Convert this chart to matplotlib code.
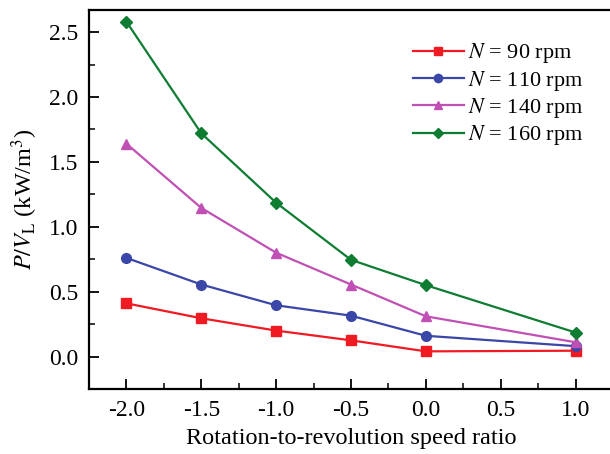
import numpy as np
import matplotlib
matplotlib.use('Agg')
import matplotlib.pyplot as plt
from matplotlib.ticker import MultipleLocator

plt.rcParams['font.family'] = 'Liberation Serif'
plt.rcParams['mathtext.fontset'] = 'stix'
plt.rcParams['font.size'] = 17
plt.rcParams['axes.unicode_minus'] = False

ratio = [-2.0, -1.5, -1.0, -0.5, 0.0, 1.0]
pv_90 = [0.41, 0.295, 0.20, 0.125, 0.04, 0.045]
pv_110 = [0.76, 0.555, 0.395, 0.315, 0.16, 0.08]
pv_140 = [1.64, 1.145, 0.80, 0.555, 0.31, 0.11]
pv_160 = [2.58, 1.72, 1.185, 0.745, 0.55, 0.185]
speeds = [90, 110, 140, 160]

series = [pv_90, pv_110, pv_140, pv_160]
colors = ['#f01a22', '#3a46a8', '#c050b4', '#0e7d32']
markers = ['s', 'o', '^', 'D']
msizes = [6.5, 7, 7.5, 6.5]

fig = plt.figure(figsize=(6.1, 4.54), dpi=100)
# right spine sits just past the figure edge
ax = fig.add_axes([89 / 610, 1 - 389 / 454, 524 / 610, 379 / 454])

for y, c, m, ms, n in zip(series, colors, markers, msizes, speeds):
    ax.plot(ratio, y, color=c, marker=m, markersize=ms, linewidth=1.6,
            label=f'$N$ = {n} rpm')

ax.set_xlim(-2.25, 1.25)
ax.set_ylim(-0.25, 2.67)
ax.xaxis.set_major_locator(MultipleLocator(0.5))
ax.xaxis.set_minor_locator(MultipleLocator(0.25))
ax.yaxis.set_major_locator(MultipleLocator(0.5))
ax.yaxis.set_minor_locator(MultipleLocator(0.25))
ax.tick_params(which='both', direction='in', top=False, right=False)
ax.tick_params(which='major', length=7, width=1.3, pad=8)
ax.tick_params(which='minor', length=4, width=1.1)
for s in ax.spines.values():
    s.set_linewidth(1.6)

ax.set_xlabel('Rotation-to-revolution speed ratio', fontsize=17.5, labelpad=5)
ax.set_ylabel(r'$P/V_{\mathrm{L}}$ (kW/m$^3$)', fontsize=17.5, labelpad=6)

ax.legend(loc='upper left', bbox_to_anchor=(0.58, 0.97), frameon=False,
          fontsize=16, handlelength=2.3, labelspacing=0.15, handletextpad=0.2,
          markerscale=0.85)

fig.savefig('out.png', dpi=100)
